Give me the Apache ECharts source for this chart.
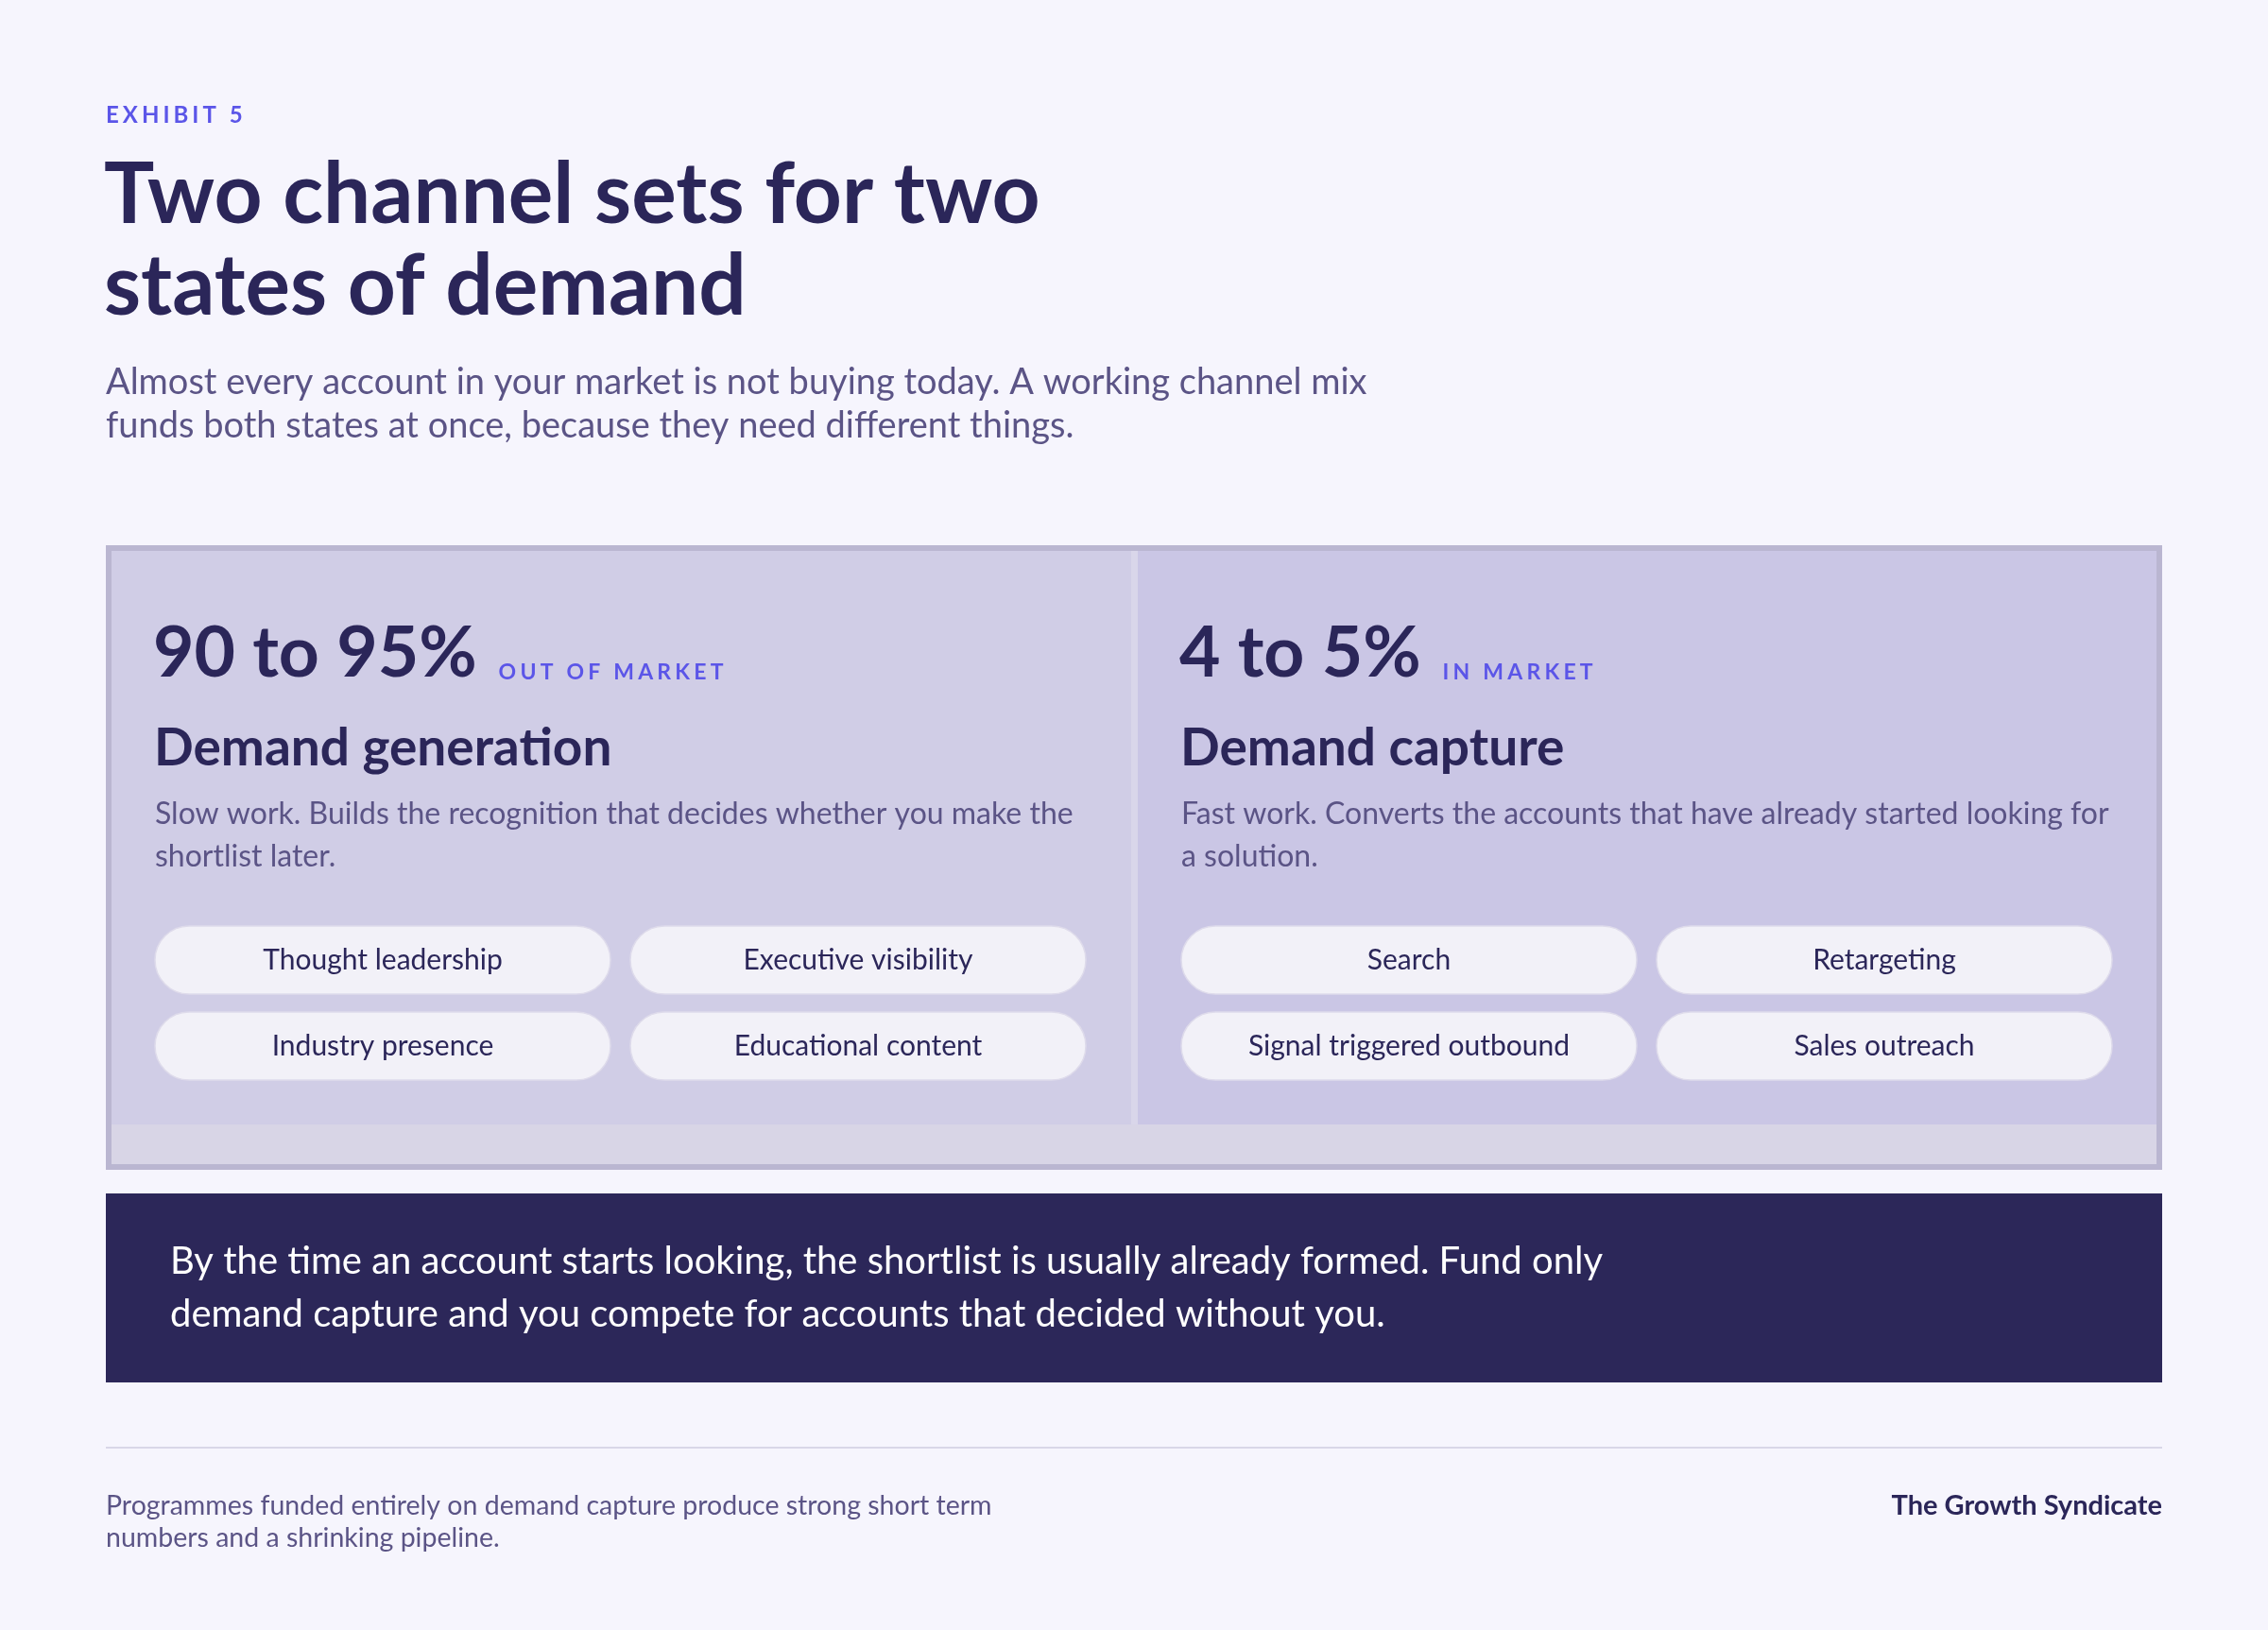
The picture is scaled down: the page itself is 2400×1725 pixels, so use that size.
<!DOCTYPE html>
<html>
<head>
<meta charset="utf-8">
<title>Exhibit 5</title>
<script src="https://cdn.jsdelivr.net/npm/echarts@6/dist/echarts.min.js"></script>
<style>
  html, body { margin: 0; padding: 0; background: #f6f5fd; }
  #chart { width: 2400px; height: 1725px; }
</style>
</head>
<body>
<div id="chart"></div>
<script>
// content
var exhibitLabel = 'EXHIBIT 5';
var titleLines = ['Two channel sets for two', 'states of demand'];
var subtitleLines = [
    'Almost every account in your market is not buying today. A working channel mix',
    'funds both states at once, because they need different things.'
];
var segmentShares = ['90 to 95%', '4 to 5%'];
var segmentStates = ['OUT OF MARKET', 'IN MARKET'];
var segmentTitles = ['Demand generation', 'Demand capture'];
var segmentNotes = [
    ['Slow work. Builds the recognition that decides whether you make the', 'shortlist later.'],
    ['Fast work. Converts the accounts that have already started looking for', 'a solution.']
];
var generationChannels = ['Thought leadership', 'Executive visibility', 'Industry presence', 'Educational content'];
var captureChannels = ['Search', 'Retargeting', 'Signal triggered outbound', 'Sales outreach'];
var calloutLines = [
    'By the time an account starts looking, the shortlist is usually already formed. Fund only',
    'demand capture and you compete for accounts that decided without you.'
];
var footnoteLines = [
    'Programmes funded entirely on demand capture produce strong short term',
    'numbers and a shrinking pipeline.'
];
var brandName = 'The Growth Syndicate';

var FONT = 'Lato, "Noto Sans", sans-serif';
var NAVY = '#2b2659';
var ACCENT = '#5b55e8';
var MUTED = '#5b5486';

var chart = echarts.init(document.getElementById('chart'), null, { renderer: 'canvas' });
var measureCtx = document.createElement('canvas').getContext('2d');

function measure(text, font) {
    measureCtx.font = font;
    return measureCtx.measureText(text).width;
}

function txt(x, y, text, font, fill, align, lineHeight) {
    return {
        type: 'text',
        x: x,
        y: y,
        style: {
            text: text,
            font: font,
            fill: fill,
            align: align || 'left',
            textAlign: align || 'left',
            verticalAlign: 'middle',
            textVerticalAlign: 'middle',
            lineHeight: lineHeight
        }
    };
}

// letter spaced caps, one char at a time
function spaced(x, y, text, font, fill, gap) {
    var out = [];
    var cx = x;
    for (var i = 0; i < text.length; i++) {
        var ch = text.charAt(i);
        if (ch !== ' ') out.push(txt(cx, y, ch, font, fill));
        cx += measure(ch, font) + gap;
    }
    return out;
}

var els = [];

// header
els = els.concat(spaced(112, 122, exhibitLabel, 'bold 24px ' + FONT, ACCENT, 4));
els.push(txt(110, 256, titleLines.join('\n'), 'bold 89px ' + FONT, NAVY, 'left', 97));
els.push(txt(112, 428, subtitleLines.join('\n'), '38px ' + FONT, MUTED, 'left', 46));

// panel frame
els.push({
    type: 'rect',
    shape: { x: 115, y: 580, width: 2170, height: 655 },
    style: { fill: '#d8d5e6', stroke: '#bab6d1', lineWidth: 6 }
});
els.push({ type: 'rect', shape: { x: 1197, y: 583, width: 7, height: 607 }, style: { fill: '#d9d6ea' } });

var panelX = [118, 1204];
var panelW = [1079, 1078];
var panelFill = ['#d0cde6', '#cac6e5'];
var panelChannels = [generationChannels, captureChannels];

for (var p = 0; p < 2; p++) {
    var px = panelX[p];
    var cx = px + 46;
    els.push({ type: 'rect', shape: { x: px, y: 583, width: panelW[p], height: 607 }, style: { fill: panelFill[p] } });

    var shareFont = 'bold 75px ' + FONT;
    els.push(txt(cx - 2, 692, segmentShares[p], shareFont, NAVY));
    var labelX = cx - 2 + measure(segmentShares[p], shareFont) + 23;
    els = els.concat(spaced(labelX, 712, segmentStates[p], 'bold 23px ' + FONT, ACCENT, 4.2));

    els.push(txt(cx - 1, 792, segmentTitles[p], 'bold 55px ' + FONT, NAVY));
    els.push(txt(cx, 884, segmentNotes[p].join('\n'), '32px ' + FONT, MUTED, 'left', 45));

    var pillW = 482, pillH = 72, gapX = 21;
    var rowsY = [980, 1071];
    var chans = panelChannels[p];
    for (var k = 0; k < chans.length; k++) {
        var col = k % 2, row = Math.floor(k / 2);
        var bx = cx + col * (pillW + gapX);
        var by = rowsY[row];
        els.push({
            type: 'rect',
            shape: { x: bx, y: by, width: pillW, height: pillH, r: 36 },
            style: { fill: '#f2f1f8', stroke: '#dedbeb', lineWidth: 1.5 }
        });
        els.push(txt(bx + pillW / 2, by + pillH / 2, chans[k], '30px ' + FONT, NAVY, 'center'));
    }
}

// callout
els.push({ type: 'rect', shape: { x: 112, y: 1263, width: 2176, height: 200 }, style: { fill: '#2c2759' } });
els.push(txt(180, 1363, calloutLines.join('\n'), '40px ' + FONT, '#ffffff', 'left', 56));

// footer
els.push({ type: 'rect', shape: { x: 112, y: 1531, width: 2176, height: 2 }, style: { fill: '#d9d7e8' } });
els.push(txt(112, 1611, footnoteLines.join('\n'), '28.5px ' + FONT, MUTED, 'left', 34));
els.push(txt(2288, 1594, brandName, 'bold 29px ' + FONT, NAVY, 'right'));

chart.setOption({
    backgroundColor: '#f6f5fd',
    animation: false,
    graphic: { elements: els }
});
</script>
</body>
</html>
